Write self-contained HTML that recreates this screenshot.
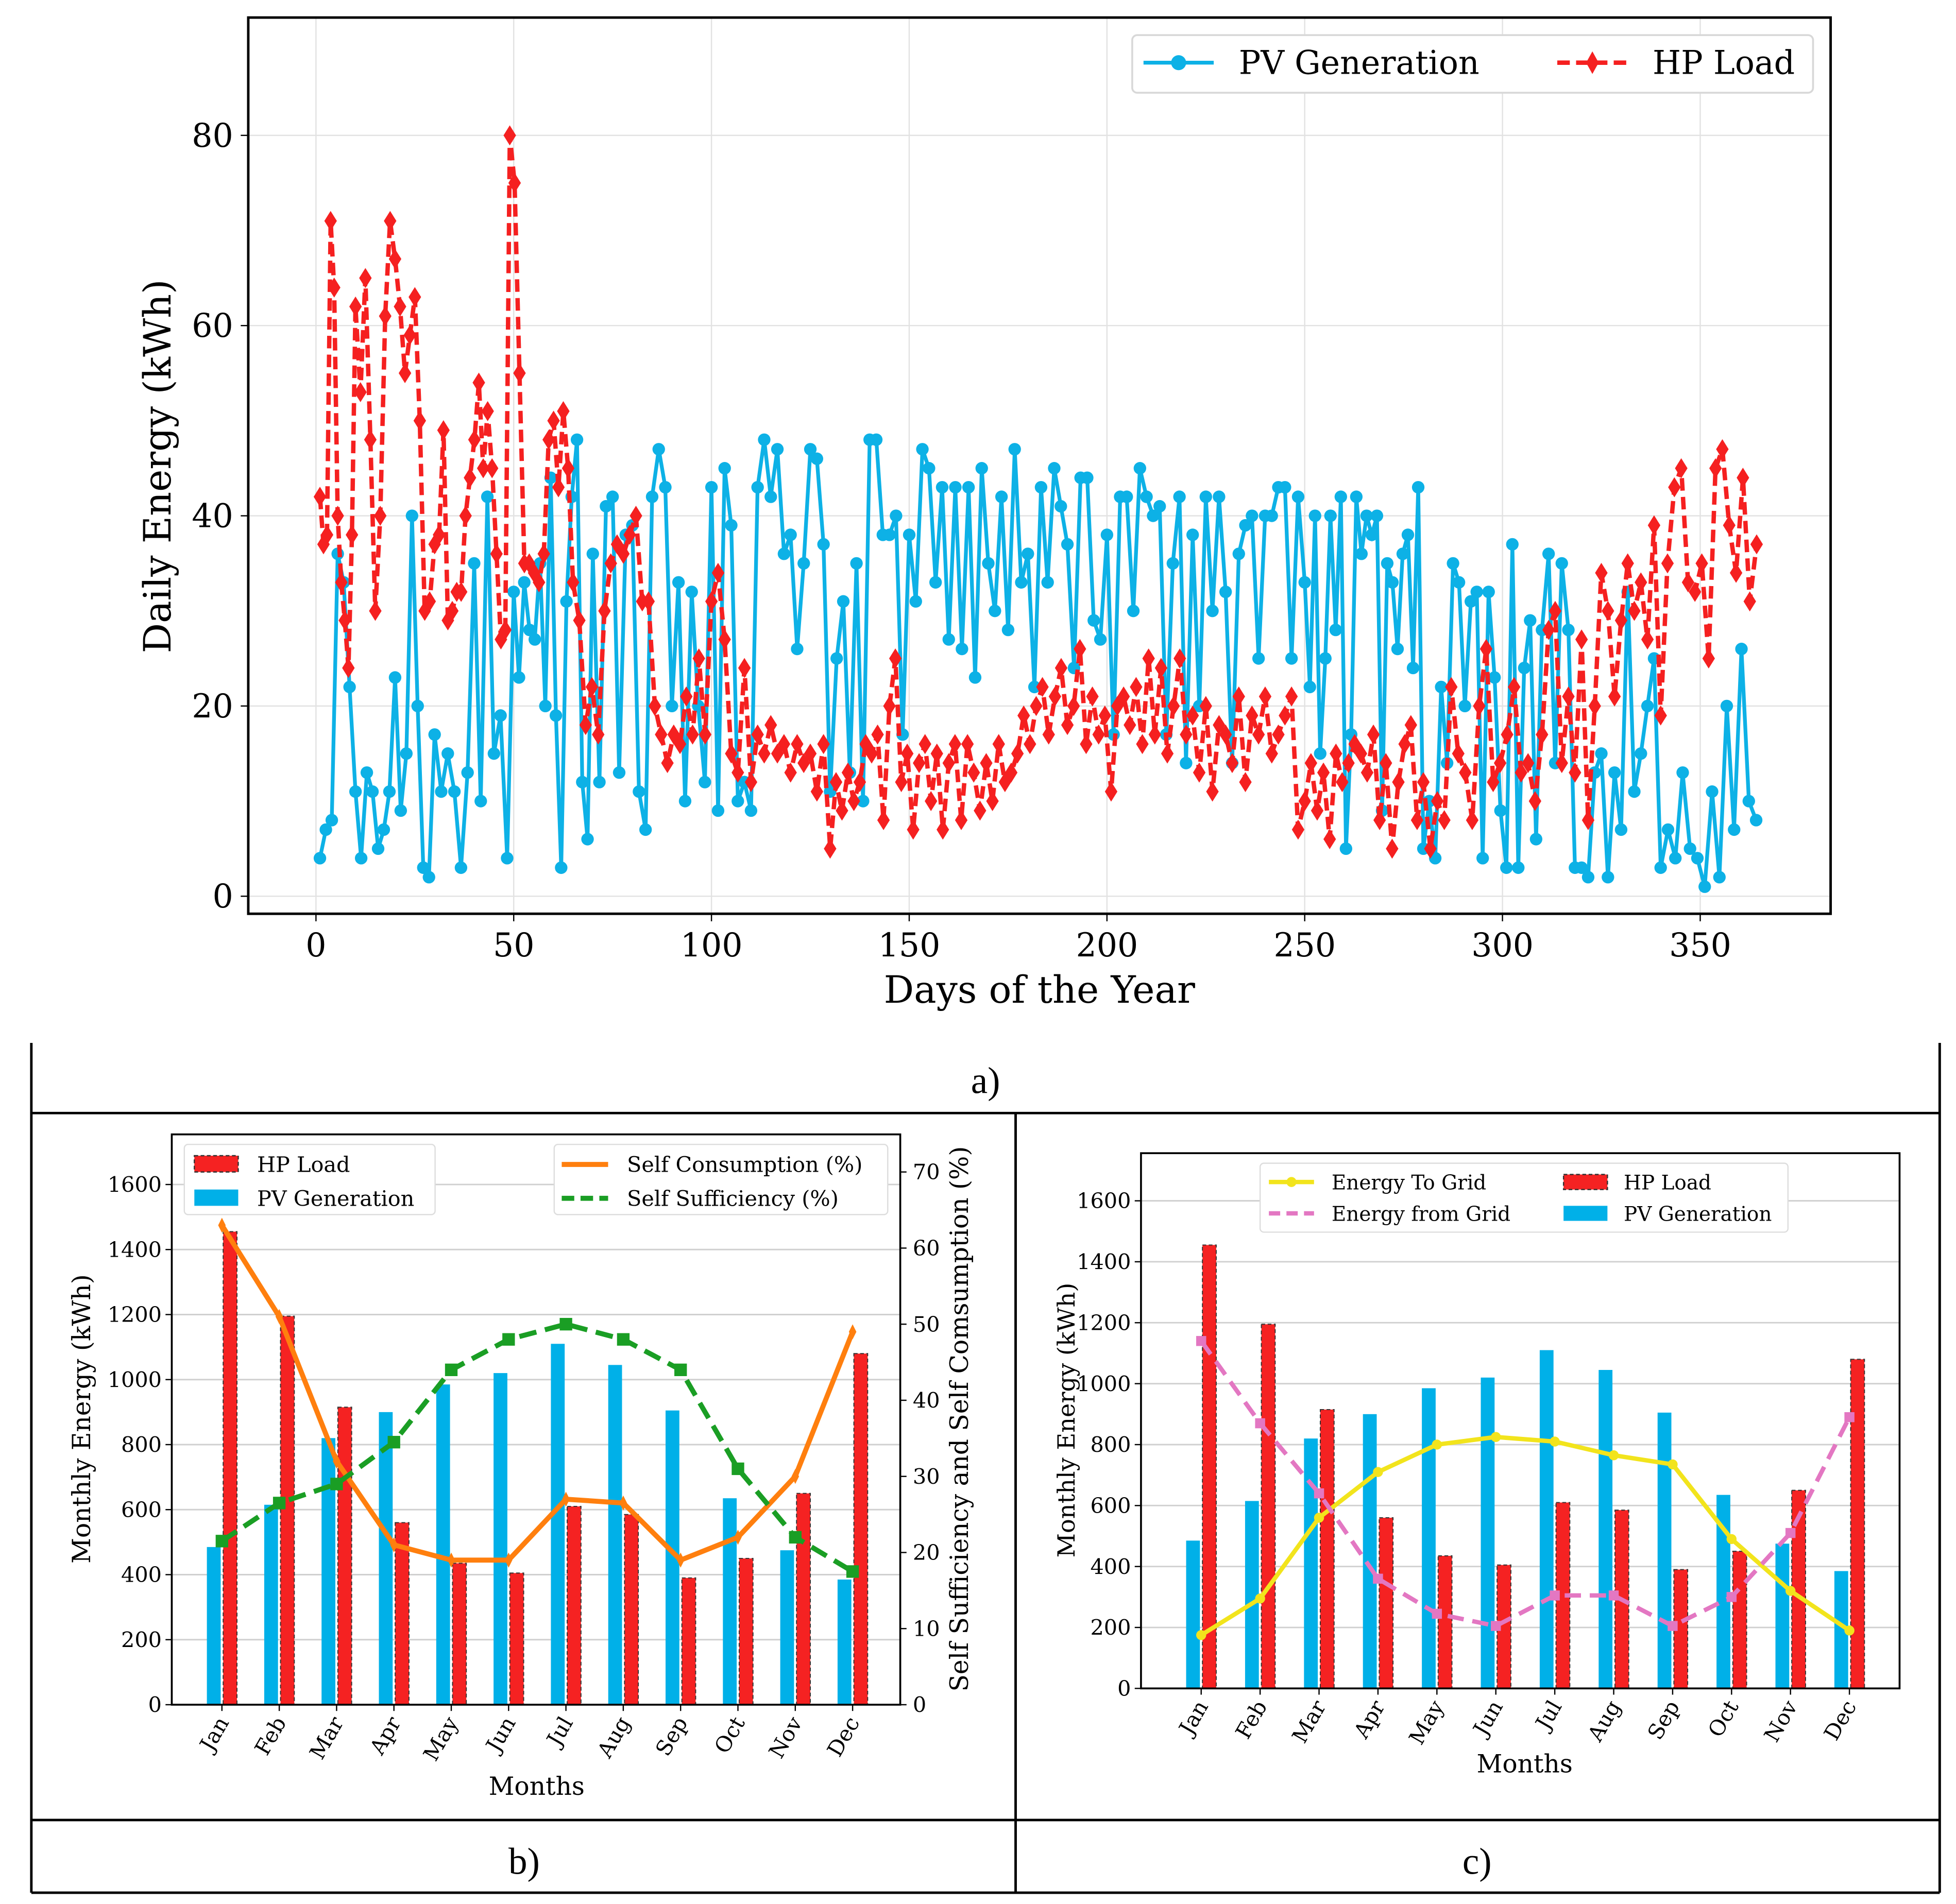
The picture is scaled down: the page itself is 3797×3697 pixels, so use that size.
<!DOCTYPE html>
<html><head><meta charset="utf-8">
<style>
html,body{margin:0;padding:0;background:#fff;}
svg{display:block;font-family:"DejaVu Serif","Liberation Serif",serif;}
</style></head>
<body>
<svg id="root" width="3797" height="3697" viewBox="0 0 1560 1519" preserveAspectRatio="none" xmlns="http://www.w3.org/2000/svg">
<rect x="0" y="0" width="1560" height="1519" fill="#fff"/>
<g id="ga"></g>
<g id="gb"></g>
<g id="gc"></g>
<g stroke="#000" stroke-width="2" fill="none">
<line x1="25" y1="832" x2="25" y2="1510"/>
<line x1="1547" y1="832" x2="1547" y2="1510"/>
<line x1="25" y1="888" x2="1547" y2="888"/>
<line x1="25" y1="1452" x2="1547" y2="1452"/>
<line x1="25" y1="1510" x2="1547" y2="1510"/>
<line x1="810" y1="888" x2="810" y2="1510"/>
</g>
<text x="786" y="872" font-size="30" text-anchor="middle" font-family="Liberation Serif,serif">a)</text>
<text x="418" y="1495" font-size="30" text-anchor="middle" font-family="Liberation Serif,serif">b)</text>
<text x="1178" y="1495" font-size="30" text-anchor="middle" font-family="Liberation Serif,serif">c)</text>
</svg>
<script>
const NS="http://www.w3.org/2000/svg";
// ---------- chart a data (chunks of daily values with their day ranges) ----------
const pvChunkDays=[[1,10],[10,30],[30,50],[50,70],[70,100],[100,130],[130,160],[160,190],[190,220],[220,250],[250,280],[280,310],[310,340],[340,366]];
const pvChunks=[[4,7,8,36,33,22],
[11,4,13,11,5,7,11,23,9,15,40,20,3,2],
[17,11,15,11,3,13,35,10,42,15,19,4],
[32,23,33,28,27,35,20,44,19,3,31,42,48,12,6],
[36,12,41,42,13,38,39,11,7,42,47,43,20,33,10,32,20,12],
[43,9,45,39,10,12,9,43,48,42,47,36,38,26,35,47,46,37],
[11,25,31,13,35,10,48,48,38,38,40,17,38,31,47,45,33,43],
[27,43,26,43,23,45,35,30,42,28,47,33,36,22,43,33,45,41],
[37,24,44,44,29,27,38,17,42,42,30,45,42,40,41,17,35,42],
[14,38,20,42,30,42,32,14,36,39,40,25,40,40,43,43,25,42],
[33,22,40,15,25,40,28,42,5,17,42,36,40,38,40,9,35,33,26,36,38,24,43],
[5,10,4,22,14,35,33,20,31,32,4,32,23,9,3,37,3,24,29,6],
[28,36,14,35,28,3,3,2,13,15,2,13,7,32,11,15,20,25],
[3,7,4,13,5,4,1,11,2,20,7,26,10,8]];
const hpChunkDays=[[1,10],[10,30],[30,49],[49,65],[65,100],[100,130],[130,160],[160,190],[190,220],[220,250],[250,280],[280,310],[310,340],[340,366]];
const hpChunks=[[42,37,38,71,64,40,33,29,24,38],
[62,53,65,48,30,40,61,71,67,62,55,59,63,50,30,31],
[37,38,49,29,30,32,32,40,44,48,54,45,51,45,36,27,28],
[80,75,55,35,35,34,33,36,48,50,43,51,45],
[33,29,18,22,17,30,35,37,36,38,40,31,31,20,17,14,17,16,21,17,25,17],
[31,34,27,15,13,24,12,17,15,18,15,16,13,16,14,15,11,16],
[5,12,9,13,10,12,16,15,17,8,20,25,12,15,7,14,16,10,15,7],
[14,16,8,16,13,9,14,10,16,12,13,15,19,16,20,22,17,21,24],
[18,20,26,16,21,17,19,11,20,21,18,22,16,25,17,24,15,20,25],
[17,19,13,20,11,18,17,14,21,12,19,17,21,15,17,19,21,7],
[10,14,9,13,6,15,12,14,16,15,13,17,8,14,5,12,16,18,8],
[12,5,10,8,22,15,13,8,20,26,12,14,17,22,13,14,10],
[17,28,30,14,21,13,27,8,20,34,30,21,29,35,30,33,27,39],
[19,35,43,45,33,32,35,25,45,47,39,34,44,31,37]];
const aXTicks=[0,50,100,150,200,250,300,350];
const aYTicks=[0,20,40,60,80];
// ---------- chart b/c data ----------
const months=["Jan","Feb","Mar","Apr","May","Jun","Jul","Aug","Sep","Oct","Nov","Dec"];
const hpMonthly=[1455,1195,915,560,435,405,610,585,390,450,650,1080];
const pvMonthly=[485,615,820,900,985,1020,1110,1045,905,635,475,385];
const selfConsumption=[63,51,32,21,19,19,27,26.5,19,22,30,49];
const selfSufficiency=[21.5,26.5,29,34.5,44,48,50,48,44,31,22,17.5];
const energyToGrid=[175,295,560,710,800,825,810,765,735,490,320,190];
const energyFromGrid=[1140,870,640,360,245,205,305,305,205,300,510,890];
const energyTicks=[0,200,400,600,800,1000,1200,1400,1600];
const pctTicks=[0,10,20,30,40,50,60,70];

function el(tag,attrs,parent,text){const e=document.createElementNS(NS,tag);for(const k in attrs)e.setAttribute(k,attrs[k]);if(text!==undefined)e.textContent=text;parent.appendChild(e);return e;}
function flatten(chunks,days){const out=[];chunks.forEach((c,k)=>{const [s,e]=days[k];c.forEach((v,j)=>out.push([s+j*(e-s)/c.length,v]));});return out;}

// ================= Chart A =================
(function(){
const g=document.getElementById('ga');
const L=198,R=1460,T=14,B=729;
const xs=d=>252+d*(1356-252)/350;
const ys=v=>715-v*(715-108)/80;
for(const t of aXTicks){el('line',{x1:xs(t),y1:T,x2:xs(t),y2:B,stroke:'#e2e2e2','stroke-width':1},g);}
for(const t of aYTicks){el('line',{x1:L,y1:ys(t),x2:R,y2:ys(t),stroke:'#e2e2e2','stroke-width':1},g);}
for(const t of aXTicks){
 el('line',{x1:xs(t),y1:B,x2:xs(t),y2:B+6,stroke:'#000'},g);
 const tx=el('text',{x:xs(t),y:B+34,'font-size':26,'text-anchor':'middle'},g,String(t));
 
 
}
for(const t of aYTicks){
 el('line',{x1:L-6,y1:ys(t),x2:L,y2:ys(t),stroke:'#000'},g);
 const tx=el('text',{x:L-12,y:ys(t)+9,'font-size':26,'text-anchor':'end'},g,String(t));
 
 
}
const pv=flatten(pvChunks,pvChunkDays), hp=flatten(hpChunks,hpChunkDays);
let p=pv.map(([d,v])=>xs(d).toFixed(1)+','+ys(v).toFixed(1)).join(' ');
const pl=el('polyline',{points:p,fill:'none',stroke:'#0db1e6','stroke-width':3},g);


pv.forEach(([d,v])=>{const c=el('circle',{cx:xs(d),cy:ys(v),r:5,fill:'#0db1e6'},g);
 
 });
p=hp.map(([d,v])=>xs(d).toFixed(1)+','+ys(v).toFixed(1)).join(' ');
const hl=el('polyline',{points:p,fill:'none',stroke:'#f52020','stroke-width':3.5,'stroke-dasharray':'10,5'},g);


hp.forEach(([d,v])=>{const x=xs(d),y=ys(v);
 const dm=el('polygon',{points:`${x},${y-8} ${x+5},${y} ${x},${y+8} ${x-5},${y}`,fill:'#f52020'},g);
 
 });
el('rect',{x:L,y:T,width:R-L,height:B-T,fill:'none',stroke:'#000','stroke-width':2},g);
const yl=el('text',{x:0,y:0,'font-size':30,'text-anchor':'middle',transform:`translate(136,372) rotate(-90)`},g,'Daily Energy (kWh)');


const xl=el('text',{x:829,y:800,'font-size':30,'text-anchor':'middle'},g,'Days of the Year');


const lg=el('g',{},g);


el('rect',{x:903,y:28,width:543,height:46,rx:4,fill:'#fff',stroke:'#d8d8d8','stroke-width':1.5},lg);
el('line',{x1:912,y1:50,x2:968,y2:50,stroke:'#0db1e6','stroke-width':3},lg);
el('circle',{cx:940,cy:50,r:6,fill:'#0db1e6'},lg);
el('text',{x:988,y:59,'font-size':26},lg,'PV Generation');
el('line',{x1:1242,y1:50,x2:1298,y2:50,stroke:'#f52020','stroke-width':3.5,'stroke-dasharray':'10,5'},lg);
el('polygon',{points:'1270,41 1275,50 1270,59 1265,50',fill:'#f52020'},lg);
el('text',{x:1318,y:59,'font-size':26},lg,'HP Load');
})();

// ============ monthly chart helper ============
function monthly(gid,L,R,T,B,y0,y1600,mx0,mx11,opts){
const g=document.getElementById(gid);
const ys=v=>y0-v*(y0-y1600)/1600;
const xm=i=>mx0+i*(mx11-mx0)/11;
for(const t of energyTicks){el('line',{x1:L,y1:ys(t),x2:R,y2:ys(t),stroke:'#d0d0d0','stroke-width':1.2},g);
 el('line',{x1:L-5,y1:ys(t),x2:L,y2:ys(t),stroke:'#000'},g);
 const tx=el('text',{x:L-8,y:ys(t)+6,'font-size':17,'text-anchor':'end'},g,String(t));
 
 }
months.forEach((m,i)=>{
 const bw=11;
 const b1=el('rect',{x:xm(i)-bw-1,y:ys(pvMonthly[i]),width:bw,height:ys(0)-ys(pvMonthly[i]),fill:'#00b0e8'},g);
 
 
 const b2=el('rect',{x:xm(i)+1,y:ys(hpMonthly[i]),width:bw,height:ys(0)-ys(hpMonthly[i]),fill:'#f52222',stroke:'#333','stroke-width':0.8,'stroke-dasharray':'3,2'},g);
 
 
 el('line',{x1:xm(i),y1:B,x2:xm(i),y2:B+5,stroke:'#000'},g);
 const tx=el('text',{x:0,y:0,'font-size':17,'text-anchor':'end',transform:`translate(${xm(i)+6},${B+14}) rotate(-60)`},g,m);
 
 
});
opts(g,xm,ys);
el('rect',{x:L,y:T,width:R-L,height:B-T,fill:'none',stroke:'#000','stroke-width':1.5},g);
}
// ================= Chart B =================
monthly('gb',137,718,905,1360,1360,945,177,680,function(g,xm,ys){
 const yp=v=>1360-v*(1360-935)/70;
 for(const t of pctTicks){el('line',{x1:718,y1:yp(t),x2:723,y2:yp(t),stroke:'#000'},g);
  const tx=el('text',{x:728,y:yp(t)+6,'font-size':17},g,String(t));
  
  }
 const sc=el('polyline',{points:selfConsumption.map((v,i)=>xm(i)+','+yp(v)).join(' '),fill:'none',stroke:'#ff7f0e','stroke-width':4},g);
 
 
 selfConsumption.forEach((v,i)=>{el('polygon',{points:`${xm(i)},${yp(v)-6} ${xm(i)+3},${yp(v)} ${xm(i)},${yp(v)+6} ${xm(i)-3},${yp(v)}`,fill:'#ff7f0e'},g);});
 const ss=el('polyline',{points:selfSufficiency.map((v,i)=>xm(i)+','+yp(v)).join(' '),fill:'none',stroke:'#1a9e24','stroke-width':4,'stroke-dasharray':'14,7'},g);
 
 
 selfSufficiency.forEach((v,i)=>{el('rect',{x:xm(i)-5,y:yp(v)-5,width:10,height:10,fill:'#1a9e24'},g);});
 const yl=el('text',{x:0,y:0,'font-size':20,'text-anchor':'middle',transform:'translate(72,1132) rotate(-90)'},g,'Monthly Energy (kWh)');
 
 
 const yr=el('text',{x:0,y:0,'font-size':20,'text-anchor':'middle',transform:'translate(772,1132) rotate(-90)'},g,'Self Sufficiency and Self Comsumption (%)');
 
 
 const xl=el('text',{x:428,y:1432,'font-size':20,'text-anchor':'middle'},g,'Months');
 
 
 const l1=el('g',{},g);
 
 
 el('rect',{x:147,y:913,width:200,height:56,rx:3,fill:'#fff',stroke:'#ddd'},l1);
 el('rect',{x:155,y:922,width:35,height:13,fill:'#f52222',stroke:'#333','stroke-dasharray':'3,2'},l1);
 el('text',{x:205,y:935,'font-size':17},l1,'HP Load');
 el('rect',{x:155,y:949,width:35,height:13,fill:'#00b0e8'},l1);
 el('text',{x:205,y:962,'font-size':17},l1,'PV Generation');
 const l2=el('g',{},g);
 
 
 el('rect',{x:442,y:913,width:266,height:56,rx:3,fill:'#fff',stroke:'#ddd'},l2);
 el('line',{x1:448,y1:929,x2:485,y2:929,stroke:'#ff7f0e','stroke-width':4},l2);
 el('text',{x:500,y:935,'font-size':17},l2,'Self Consumption (%)');
 el('line',{x1:448,y1:956,x2:485,y2:956,stroke:'#1a9e24','stroke-width':4,'stroke-dasharray':'10,5'},l2);
 el('text',{x:500,y:962,'font-size':17},l2,'Self Sufficiency (%)');
});
// ================= Chart C =================
monthly('gc',910,1515,920,1347,1347,958,958,1475,function(g,xm,ys){
 const tg=el('polyline',{points:energyToGrid.map((v,i)=>xm(i)+','+ys(v)).join(' '),fill:'none',stroke:'#f2e41c','stroke-width':3.5},g);
 
 
 energyToGrid.forEach((v,i)=>{el('circle',{cx:xm(i),cy:ys(v),r:4,fill:'#f2e41c'},g);});
 const fg=el('polyline',{points:energyFromGrid.map((v,i)=>xm(i)+','+ys(v)).join(' '),fill:'none',stroke:'#e377c2','stroke-width':3.5,'stroke-dasharray':'13,7'},g);
 
 
 energyFromGrid.forEach((v,i)=>{el('rect',{x:xm(i)-4,y:ys(v)-4,width:8,height:8,fill:'#e377c2'},g);});
 const yl=el('text',{x:0,y:0,'font-size':19,'text-anchor':'middle',transform:'translate(857,1133) rotate(-90)'},g,'Monthly Energy (kWh)');
 
 
 const xl=el('text',{x:1216,y:1414,'font-size':20,'text-anchor':'middle'},g,'Months');
 
 
 const lg=el('g',{},g);
 
 
 el('rect',{x:1005,y:928,width:421,height:55,rx:3,fill:'#fff',stroke:'#ddd'},lg);
 el('line',{x1:1012,y1:943,x2:1048,y2:943,stroke:'#f2e41c','stroke-width':3.5},lg);
 el('circle',{cx:1030,cy:943,r:4,fill:'#f2e41c'},lg);
 el('text',{x:1062,y:949,'font-size':16},lg,'Energy To Grid');
 el('line',{x1:1012,y1:968,x2:1048,y2:968,stroke:'#e377c2','stroke-width':3.5,'stroke-dasharray':'9,5'},lg);
 el('text',{x:1062,y:974,'font-size':16},lg,'Energy from Grid');
 el('rect',{x:1247,y:937,width:35,height:12,fill:'#f52222',stroke:'#333','stroke-dasharray':'3,2'},lg);
 el('text',{x:1295,y:949,'font-size':16},lg,'HP Load');
 el('rect',{x:1247,y:962,width:35,height:12,fill:'#00b0e8'},lg);
 el('text',{x:1295,y:974,'font-size':16},lg,'PV Generation');
});
</script>
</body></html>
